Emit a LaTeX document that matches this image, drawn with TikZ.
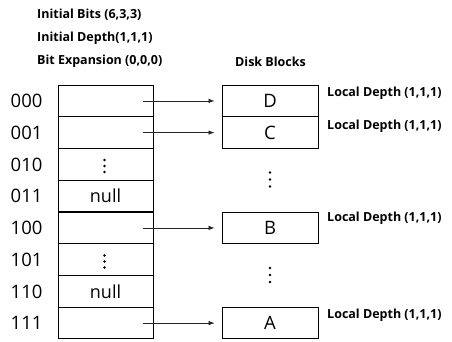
\documentclass[tikz,border=0pt]{standalone}
\usepackage{fontspec}
\setmainfont{Open Sans}
\usetikzlibrary{arrows.meta}
\begin{document}
\begin{tikzpicture}[x=1pt,y=-1pt,
  cell/.style={draw,line width=1pt,minimum width=95pt,minimum height=31.75pt,inner sep=0pt,font=\fontsize{18}{20}\selectfont},
  blk/.style={draw,line width=1pt,minimum width=96pt,minimum height=31.75pt,inner sep=0pt,font=\fontsize{18.5}{20}\selectfont},
  rowlab/.style={anchor=west,inner sep=0pt,font=\fontsize{18.5}{20}\selectfont},
  boldlab/.style={anchor=west,inner sep=0pt,font=\fontsize{12.5}{14}\selectfont\bfseries},
  ptr/.style={line width=0.6pt,draw=black!85,-{Latex[length=6pt,width=4.5pt]},shorten >=7pt},
  dot/.style={circle,fill,inner sep=0pt,minimum size=2.8pt}]
\useasboundingbox (0,0) rectangle (452,341);
% header texts
\node[boldlab] (t1) at (37,15) {Initial Bits (6,3,3)};
\node[boldlab] (t2) at (37,38) {Initial Depth(1,1,1)};
\node[boldlab] (t3) at (37,61) {Bit Expansion (0,0,0)};
\node[boldlab] (t4) at (235,62) {Disk Blocks};
% table
\node[cell] (r0) at (105.5,100.9) {};
\node[cell] (r1) at (105.5,132.6) {};
\node[cell] (r2) at (105.5,164.4) {};
\node[cell] (r3) at (105.5,196.1) {null};
\node[cell] (r4) at (105.5,227.9) {};
\node[cell] (r5) at (105.5,259.6) {};
\node[cell] (r6) at (105.5,291.4) {null};
\node[cell] (r7) at (105.5,323.1) {};
% vertical dots in table
\foreach \yy in {160,166,172} \node[dot] at (104.5,\yy) {};
\foreach \yy in {255.5,261.5,267.5} \node[dot] at (104.5,\yy) {};
% row labels
\node[rowlab] (l0) at (10.5,100.9) {000};
\node[rowlab] (l1) at (10.5,132.6) {001};
\node[rowlab] (l2) at (10.5,164.4) {010};
\node[rowlab] (l3) at (10.5,196.1) {011};
\node[rowlab] (l4) at (10.5,227.9) {100};
\node[rowlab] (l5) at (10.5,259.6) {101};
\node[rowlab] (l6) at (10.5,291.4) {110};
\node[rowlab] (l7) at (10.5,323.1) {111};
% disk blocks
\node[blk] (D) at (270,100.9) {D};
\node[blk] (C) at (270,132.6) {C};
\node[blk] (B) at (270,227.9) {B};
\node[blk] (A) at (270,323.1) {A};
\foreach \yy in {172.5,179.5,186.5} \node[dot] at (270,\yy) {};
\foreach \yy in {268,275,282} \node[dot] at (270,\yy) {};
% local depth labels
\node[boldlab] (ld) at (327,93) {Local Depth (1,1,1)};
\node[boldlab] (lc) at (327,126.5) {Local Depth (1,1,1)};
\node[boldlab] (lb) at (327,218) {Local Depth (1,1,1)};
\node[boldlab] (la) at (327,315) {Local Depth (1,1,1)};
% pointers
\coordinate (s0) at ([xshift=-11pt]r0.east);
\coordinate (s1) at ([xshift=-11pt]r1.east);
\coordinate (s4) at ([xshift=-11pt]r4.east);
\coordinate (s7) at ([xshift=-11pt]r7.east);
\draw[ptr] (s0) -- (D.west);
\draw[ptr] (s1) -- (C.west);
\draw[ptr] (s4) -- (B.west);
\draw[ptr] (s7) -- (A.west);
\end{tikzpicture}
\end{document}
